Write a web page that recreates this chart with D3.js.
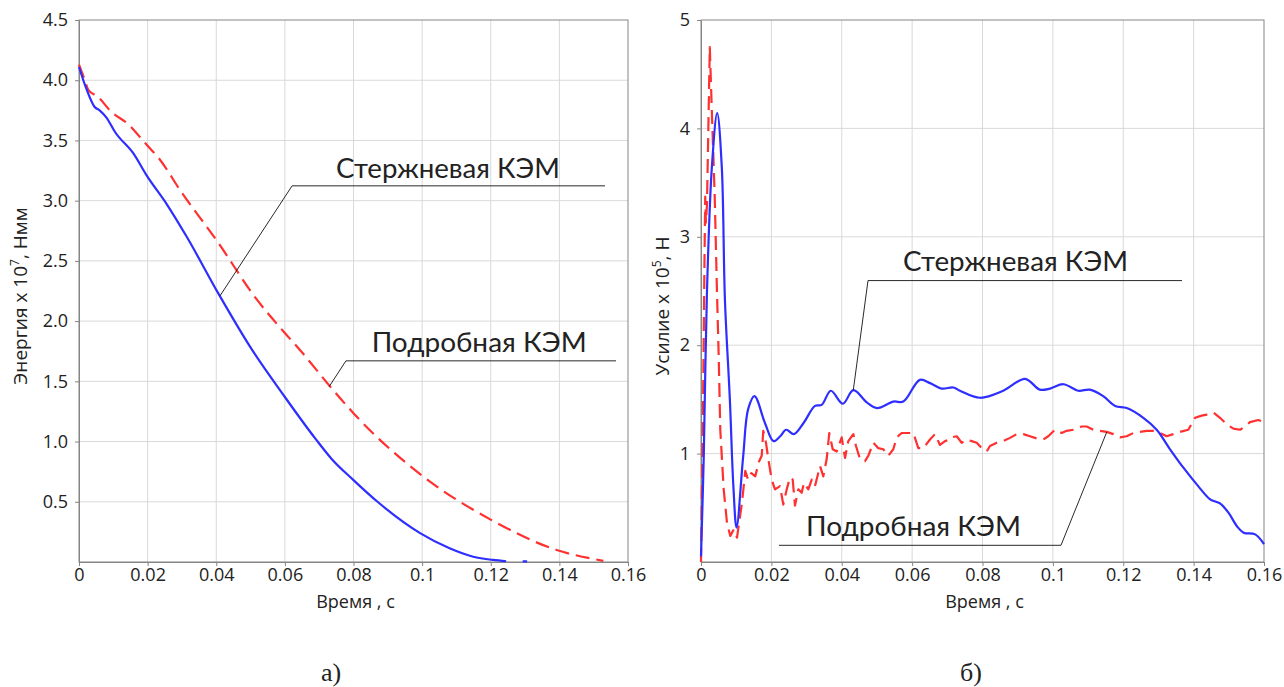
<!DOCTYPE html>
<html>
<head>
<meta charset="utf-8">
<script src="https://cdn.jsdelivr.net/npm/d3@7/dist/d3.min.js"></script>
<style>
  body { margin: 0; background: #fff; }
  text { fill: #222; }
</style>
</head>
<body>
<svg id="chart" width="1284" height="687"></svg>
<script>
const width = 1284;
const height = 687;

// ticks
const timeTicks = [0, 0.02, 0.04, 0.06, 0.08, 0.1, 0.12, 0.14, 0.16];
const energyTicks = [0.5, 1.0, 1.5, 2.0, 2.5, 3.0, 3.5, 4.0, 4.5];
const forceTicks = [1, 2, 3, 4, 5];

// a) energy, x10^7 Nmm  [time, value]
const energyRod = [
  [0, 4.11], [0.002, 3.94], [0.0045, 3.78], [0.006, 3.75], [0.008, 3.69], [0.0105, 3.57],
  [0.0159, 3.39], [0.0197, 3.21], [0.0256, 2.97], [0.0314, 2.70], [0.0406, 2.23],
  [0.0498, 1.79], [0.06, 1.37], [0.069, 1.02], [0.0735, 0.86], [0.08, 0.68], [0.087, 0.5],
  [0.0994, 0.24], [0.108, 0.114], [0.1149, 0.044], [0.1207, 0.017], [0.1245, 0.006],
  [0.1262, null], [0.1293, 0.006], [0.1306, 0.006]
];
const energyDetailed = [
  [0, 4.13], [0.0017, 4.00], [0.0027, 3.92], [0.0056, 3.86], [0.009, 3.75], [0.0149, 3.62],
  [0.0192, 3.48], [0.0236, 3.34], [0.0294, 3.09], [0.0401, 2.67], [0.0518, 2.18],
  [0.0605, 1.885], [0.0644, 1.76], [0.0731, 1.46], [0.08, 1.235], [0.1003, 0.71],
  [0.1201, 0.35], [0.1392, 0.10], [0.1528, 0.01]
];

// б) force, x10^5 N  [time, value]
const forceRod = [
  [0, 0.05], [0.0008, 1.0], [0.0017, 2.5], [0.0031, 3.65], [0.0046, 4.14], [0.0059, 3.65],
  [0.0068, 2.42], [0.0082, 1.5], [0.0092, 0.70], [0.0101, 0.317], [0.012, 0.98],
  [0.0134, 1.41], [0.0152, 1.53], [0.0182, 1.28], [0.0206, 1.115], [0.0225, 1.16],
  [0.0242, 1.22], [0.0264, 1.18], [0.0291, 1.28], [0.0324, 1.44], [0.0343, 1.45],
  [0.0369, 1.58], [0.0403, 1.46], [0.0433, 1.585], [0.0472, 1.47], [0.05, 1.42],
  [0.0547, 1.48], [0.0575, 1.48], [0.0622, 1.68], [0.0651, 1.65], [0.0684, 1.60],
  [0.0717, 1.61], [0.0736, 1.58], [0.0793, 1.515], [0.0859, 1.58], [0.0921, 1.69],
  [0.0963, 1.59], [0.0992, 1.60], [0.103, 1.64], [0.1072, 1.58], [0.1105, 1.59],
  [0.1143, 1.53], [0.1177, 1.44], [0.121, 1.42], [0.1257, 1.33], [0.1295, 1.22],
  [0.1333, 1.04], [0.1371, 0.87], [0.1413, 0.70], [0.1447, 0.578], [0.1475, 0.54],
  [0.1499, 0.455], [0.1523, 0.33], [0.1542, 0.27], [0.1575, 0.255], [0.16, 0.165]
];
const forceDetailed = [
  [0, 0], [0.0006, 1.5], [0.001, 2.8], [0.0012, 3.37], [0.0014, 3.13], [0.0017, 3.3],
  [0.0025, 4.75], [0.0031, 4.14], [0.0039, 3.37], [0.00455, 2.48], [0.00503, 1.90],
  [0.00548, 1.22], [0.00645, 0.67], [0.00739, 0.36], [0.00833, 0.24], [0.00929, 0.30],
  [0.01023, 0.225], [0.01165, 0.55], [0.01259, 0.84], [0.01336, 0.76], [0.0143, 0.82],
  [0.01543, 0.79], [0.0164, 0.92], [0.01725, 0.98], [0.0177, 1.21], [0.01847, 1.10],
  [0.01913, 0.95], [0.02009, 0.76], [0.02103, 0.67], [0.02245, 0.70], [0.02339, 0.53],
  [0.02436, 0.67], [0.02529, 0.78], [0.02606, 0.76], [0.02671, 0.52], [0.02765, 0.67],
  [0.02862, 0.64], [0.02927, 0.73], [0.0305, 0.67], [0.03146, 0.76], [0.0324, 0.70],
  [0.03382, 0.885], [0.03476, 0.79], [0.03572, 0.95], [0.03646, 1.19], [0.03743, 1.04],
  [0.03857, 1.02], [0.03999, 1.15], [0.04093, 0.96], [0.04186, 1.115], [0.04328, 1.18],
  [0.04405, 1.07], [0.04519, 0.95], [0.04661, 0.93], [0.04755, 0.98], [0.04897, 1.10],
  [0.05039, 1.05], [0.05181, 1.04], [0.05323, 0.98], [0.05465, 1.04], [0.05562, 1.15],
  [0.05704, 1.19], [0.05846, 1.19], [0.06034, 1.19], [0.06176, 1.05], [0.06318, 1.05],
  [0.06508, 1.13], [0.0665, 1.18], [0.06792, 1.08], [0.06934, 1.115], [0.07076, 1.13],
  [0.07125, 1.15], [0.07267, 1.16], [0.07409, 1.10], [0.07551, 1.13], [0.07693, 1.115],
  [0.07835, 1.10], [0.07977, 1.05], [0.0812, 1.02], [0.08213, 1.07], [0.08404, 1.10],
  [0.08591, 1.115], [0.08782, 1.145], [0.08972, 1.18], [0.0916, 1.18], [0.0935, 1.16],
  [0.0954, 1.14], [0.09728, 1.13], [0.0987, 1.16], [0.1006, 1.22], [0.1025, 1.19],
  [0.10393, 1.21], [0.10581, 1.22], [0.1082, 1.25], [0.10962, 1.25], [0.11149, 1.22],
  [0.1134, 1.21], [0.1153, 1.20], [0.11718, 1.18], [0.11907, 1.15], [0.12097, 1.16],
  [0.12286, 1.19], [0.12476, 1.20], [0.12666, 1.21], [0.12855, 1.21], [0.13044, 1.19],
  [0.13234, 1.16], [0.13423, 1.18], [0.13613, 1.20], [0.13849, 1.22], [0.14039, 1.33],
  [0.1423, 1.35], [0.14372, 1.36], [0.14559, 1.38], [0.1475, 1.33], [0.1494, 1.27],
  [0.1513, 1.23], [0.1532, 1.22], [0.1546, 1.25], [0.156, 1.29], [0.1584, 1.31], [0.16, 1.29]
];

const labelRod = 'Стержневая КЭМ';
const labelDetailed = 'Подробная КЭМ';

const svg = d3.select('#chart');
svg.append('rect').attr('width', width).attr('height', height).attr('fill', '#fff');

const drawPanel = cfg => {
  const x = d3.scaleLinear().domain([0, 0.16]).range([cfg.left, cfg.right]);
  const y = d3.scaleLinear().domain([0, cfg.yMax]).range([562, 20]);
  const g = svg.append('g');

  // grid
  g.append('g').selectAll('line').data(timeTicks.slice(1, -1)).join('line')
    .attr('x1', d => x(d)).attr('x2', d => x(d)).attr('y1', y(0)).attr('y2', y(cfg.yMax))
    .attr('stroke', '#d9d9d9');
  g.append('g').selectAll('line').data(cfg.yTicks.slice(0, -1)).join('line')
    .attr('x1', x(0)).attr('x2', x(0.16)).attr('y1', d => y(d)).attr('y2', d => y(d))
    .attr('stroke', '#d9d9d9');

  // frame
  g.append('rect')
    .attr('x', x(0)).attr('y', y(cfg.yMax))
    .attr('width', x(0.16) - x(0)).attr('height', y(0) - y(cfg.yMax))
    .attr('fill', 'none').attr('stroke', '#858585');

  const xAxis = g.append('g').attr('transform', `translate(0,${y(0)})`)
    .call(d3.axisBottom(x).tickValues(timeTicks).tickFormat(d => d === 0 ? '0' : d3.format('')(d))
      .tickSizeInner(4).tickSizeOuter(0).tickPadding(2));
  const yAxis = g.append('g').attr('transform', `translate(${x(0)},0)`)
    .call(d3.axisLeft(y).tickValues(cfg.yTicks).tickFormat(cfg.yFormat)
      .tickSizeInner(4).tickSizeOuter(0).tickPadding(7));
  [xAxis, yAxis].forEach(a => {
    a.attr('font-family', '"Open Sans", sans-serif').attr('font-size', 18);
    a.select('.domain').attr('stroke', '#858585');
    a.selectAll('.tick line').attr('stroke', '#858585');
    a.selectAll('text').attr('fill', '#1a1a1a');
  });

  // axis titles
  g.append('text')
    .attr('x', (x(0) + x(0.16)) / 2 + 2).attr('y', cfg.xTitleY)
    .attr('text-anchor', 'middle')
    .attr('font-family', '"Open Sans", sans-serif').attr('font-size', 18)
    .text('Время , с');

  const yt = g.append('text')
    .attr('transform', `translate(${cfg.yTitleX},${cfg.yTitleY}) rotate(-90)`)
    .attr('text-anchor', 'middle')
    .attr('font-family', '"Open Sans", sans-serif').attr('font-size', 19);
  yt.append('tspan').text(cfg.yTitle[0]);
  yt.append('tspan').attr('dy', -8).attr('font-size', 12).text(cfg.yTitle[1]);
  yt.append('tspan').attr('dy', 8).text(cfg.yTitle[2]);

  // series
  const line = d3.line()
    .defined(d => d[1] !== null)
    .x(d => x(d[0])).y(d => y(d[1]));

  g.append('path').datum(cfg.detailed)
    .attr('d', line.curve(cfg.redCurve))
    .attr('fill', 'none').attr('stroke', '#ff3030').attr('stroke-width', 2.2)
    .attr('stroke-dasharray', '14,7').attr('stroke-linejoin', 'round');
  g.append('path').datum(cfg.rod)
    .attr('d', line.curve(cfg.curve))
    .attr('fill', 'none').attr('stroke', '#2e2eff').attr('stroke-width', 2.2)
    .attr('stroke-linejoin', 'round');

  // callouts
  cfg.notes.forEach(n => {
    g.append('polyline')
      .attr('points', [[x(n.tip[0]), y(n.tip[1])], [x(n.knee[0]), y(n.knee[1])], [x(n.end), y(n.knee[1])]].join(' '))
      .attr('fill', 'none').attr('stroke', '#111').attr('stroke-width', 0.9);
    g.append('text')
      .attr('x', x(n.text[0])).attr('y', y(n.text[1]))
      .attr('font-family', 'Lato, "Open Sans", sans-serif').attr('font-size', 27)
      .attr('textLength', n.len).attr('lengthAdjust', 'spacingAndGlyphs')
      .attr('fill', '#111')
      .text(n.label);
  });

  svg.append('text')
    .attr('x', cfg.capX).attr('y', 681)
    .attr('text-anchor', 'middle')
    .attr('font-family', '"Liberation Serif", "Times New Roman", serif').attr('font-size', 26)
    .attr('fill', '#111')
    .text(cfg.caption);
};

drawPanel({
  left: 79, right: 628, yMax: 4.5, yTicks: energyTicks, yFormat: d3.format('.1f'),
  rod: energyRod, detailed: energyDetailed,
  curve: d3.curveMonotoneX, redCurve: d3.curveMonotoneX,
  xTitleY: 608, yTitleX: 27, yTitleY: 296,
  yTitle: ['Энергия x 10', '7', ', Нмм'],
  notes: [
    { label: labelRod, tip: [0.0411, 2.21], knee: [0.0621, 3.123], end: 0.1533, text: [0.0749, 3.19], len: 224 },
    { label: labelDetailed, tip: [0.0729, 1.456], knee: [0.0778, 1.67], end: 0.1565, text: [0.0853, 1.744], len: 215 }
  ],
  capX: 331, caption: 'а)'
});

drawPanel({
  left: 701, right: 1264, yMax: 5, yTicks: forceTicks, yFormat: d3.format('d'),
  rod: forceRod, detailed: forceDetailed,
  curve: d3.curveCatmullRom.alpha(0.5), redCurve: d3.curveLinear,
  xTitleY: 608, yTitleX: 669, yTitleY: 306,
  yTitle: ['Усилие x 10', '5', ', Н'],
  notes: [
    { label: labelRod, tip: [0.04328, 1.585], knee: [0.04746, 2.596], end: 0.1367, text: [0.0574, 2.68], len: 225 },
    { label: labelDetailed, tip: [0.1153, 1.198], knee: [0.1023, 0.154], end: 0.02217, text: [0.02984, 0.237], len: 215 }
  ],
  capX: 971, caption: 'б)'
});
</script>
</body>
</html>
